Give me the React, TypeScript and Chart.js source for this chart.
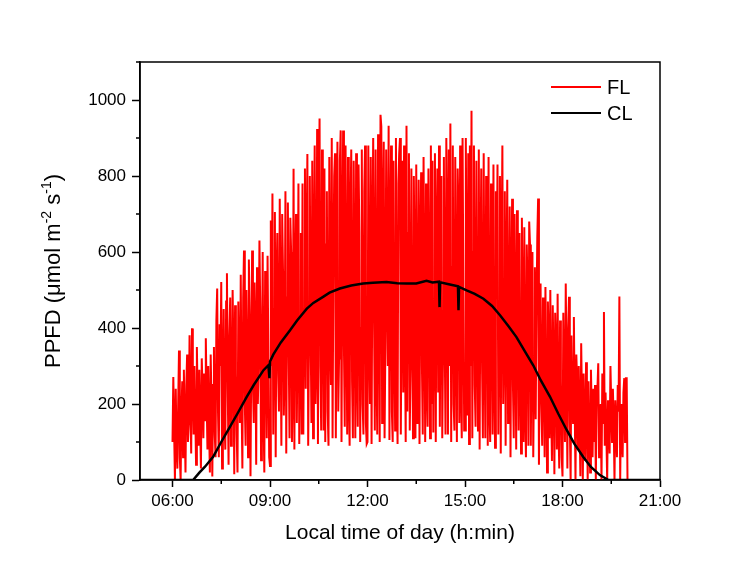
import React, { useEffect, useRef } from "react";
import { Chart, registerables } from "chart.js";

Chart.register(...registerables);

// ---- Data ----
// FL: sampled every 1.5 minutes, one array per hour
const FL_06 = [100, 271, 130, 0, 240, 90, 30, 200, 341, 60, 0, 180, 260, 60, 290, 140, 20, 250, 330, 100, 150, 381, 200, 70, 399, 260, 120, 300, 180, 40, 350, 210, 90, 290, 150, 30, 320, 240, 110, 280];
const FL_07 = [157, 373, 220, 80, 300, 140, 20, 330, 200, 9, 250, 350, 120, 60, 420, 504, 180, 60, 410, 300, 521, 30, 260, 450, 150, 80, 470, 544, 240, 40, 380, 480, 90, 200, 500, 330, 15, 460, 280, 120];
const FL_08 = [20, 470, 300, 150, 540, 210, 30, 480, 604, 200, 90, 500, 350, 60, 580, 420, 10, 340, 604, 250, 150, 520, 380, 40, 560, 200, 300, 630, 450, 52, 260, 600, 180, 20, 550, 400, 110, 590, 320, 60];
const FL_09 = [37, 683, 300, 754, 120, 450, 705, 60, 520, 650, 280, 180, 740, 400, 90, 700, 550, 170, 300, 760, 70, 480, 730, 350, 110, 690, 600, 100, 250, 819, 80, 520, 700, 150, 400, 780, 95, 330, 650, 120];
const FL_10 = [780, 120, 450, 820, 240, 600, 858, 90, 380, 800, 400, 150, 840, 110, 550, 880, 200, 320, 924, 95, 700, 951, 300, 130, 870, 480, 130, 820, 100, 620, 760, 180, 90, 850, 400, 250, 900, 110, 560, 800];
const FL_11 = [860, 110, 500, 890, 180, 320, 840, 920, 100, 600, 920, 350, 140, 880, 450, 120, 850, 230, 90, 700, 870, 260, 110, 840, 520, 110, 860, 300, 140, 830, 650, 100, 400, 870, 200, 120, 760, 880, 150, 95];
const FL_12 = [100, 880, 400, 200, 850, 95, 600, 900, 450, 130, 870, 300, 120, 910, 550, 100, 961, 930, 150, 700, 890, 110, 350, 870, 500, 300, 932, 105, 620, 880, 180, 100, 840, 420, 130, 900, 260, 95, 780, 860];
const FL_13 = [900, 120, 500, 840, 230, 880, 400, 100, 932, 180, 650, 860, 130, 300, 820, 420, 110, 800, 550, 110, 830, 150, 400, 790, 95, 600, 810, 300, 120, 850, 480, 100, 780, 250, 140, 820, 600, 110, 880, 200];
const FL_14 = [840, 125, 450, 860, 100, 620, 820, 230, 880, 140, 500, 800, 110, 350, 850, 380, 120, 900, 650, 120, 870, 300, 938, 100, 560, 880, 200, 130, 850, 420, 100, 820, 700, 150, 880, 250, 110, 900, 500, 130];
const FL_15 = [130, 900, 500, 170, 860, 95, 880, 300, 972, 110, 600, 880, 250, 140, 840, 450, 130, 870, 80, 550, 820, 300, 110, 860, 400, 110, 800, 620, 90, 850, 200, 100, 780, 480, 120, 830, 300, 85, 760, 500];
const FL_16 = [830, 120, 450, 800, 70, 600, 880, 200, 380, 760, 90, 520, 790, 150, 300, 720, 60, 480, 740, 250, 110, 700, 400, 80, 710, 550, 130, 650, 300, 70, 690, 420, 100, 665, 200, 60, 620, 500, 90, 680];
const FL_17 = [620, 90, 400, 600, 60, 300, 560, 160, 450, 640, 741, 40, 350, 517, 200, 90, 480, 320, 60, 508, 250, 20, 470, 380, 110, 500, 200, 50, 460, 300, 15, 440, 350, 80, 490, 150, 30, 420, 260, 60];
const FL_18 = [9, 440, 250, 100, 517, 300, 30, 400, 482, 150, 0, 380, 250, 150, 429, 200, 0, 330, 260, 80, 300, 150, 10, 360, 200, 0, 280, 120, 50, 310, 220, 0, 260, 150, 20, 290, 180, 60, 240, 100];
const FL_19 = [250, 0, 200, 240, 307, 60, 150, 200, 0, 280, 150, 442, 90, 230, 120, 0, 210, 160, 70, 300, 200, 100, 240, 150, 0, 210, 140, 60, 250, 180, 483, 0, 200, 120, 60, 230, 268, 100, 268, 268];
const FL_20 = [0];
const FL_HOURS = [6, 7, 8, 9, 10, 11, 12, 13, 14, 15, 16, 17, 18, 19, 20];

// CL: time (minutes since midnight) and PPFD
const CL_TIME = [300, 398, 410, 420, 435, 450, 466, 480, 497, 510, 528, 537, 539, 540, 546, 560, 577, 590, 608, 620, 638, 650, 669, 690, 712, 730, 755, 775, 792, 810, 829, 840, 852, 853, 854, 870, 887, 888, 889, 903, 918, 934, 950, 965, 980, 995, 1010, 1026, 1040, 1057, 1072, 1088, 1102, 1118, 1132, 1149, 1165, 1260];
const CL_VALUE = [0, 0, 20, 35, 61, 100, 140, 175, 219, 250, 289, 302, 268, 312, 330, 362, 394, 420, 451, 466, 482, 493, 504, 512, 517, 519, 521, 518, 517, 517, 524, 520, 522, 455, 520, 515, 510, 447, 508, 499, 490, 477, 458, 433, 405, 376, 340, 302, 262, 219, 175, 131, 95, 61, 35, 13, 0, 0];

const X_TICKS = [360, 540, 720, 900, 1080, 1260];
const X_TICK_LABELS = ["06:00", "09:00", "12:00", "15:00", "18:00", "21:00"];
const X_MINOR = [450, 630, 810, 990, 1170];
const Y_TICKS = [0, 200, 400, 600, 800, 1000];
const Y_MINOR = [100, 300, 500, 700, 900, 1100];

const FONT = "'Liberation Sans', Arial, sans-serif";

function buildFL() {
  const groups = [FL_06, FL_07, FL_08, FL_09, FL_10, FL_11, FL_12, FL_13, FL_14, FL_15, FL_16, FL_17, FL_18, FL_19, FL_20];
  const pts: { x: number; y: number }[] = [];
  groups.forEach((g, gi) => {
    const step = 60 / Math.max(g.length, 1);
    g.forEach((v, i) => pts.push({ x: FL_HOURS[gi] * 60 + i * step, y: v }));
  });
  return pts;
}

const framePlugin = {
  id: "frame",
  afterDraw(chart: any) {
    const { ctx, chartArea } = chart;
    const { left, right, top, bottom } = chartArea;
    const xs = chart.scales.x;
    const ys = chart.scales.y;
    ctx.save();
    ctx.strokeStyle = "#000";
    ctx.lineWidth = 1.5;
    ctx.beginPath();
    ctx.rect(left, top, right - left, bottom - top);
    ctx.stroke();
    // minor ticks
    ctx.beginPath();
    X_MINOR.forEach((v) => {
      const px = xs.getPixelForValue(v);
      ctx.moveTo(px, bottom);
      ctx.lineTo(px, bottom + 4);
    });
    Y_MINOR.forEach((v) => {
      const py = ys.getPixelForValue(v);
      ctx.moveTo(left, py);
      ctx.lineTo(left - 4, py);
    });
    ctx.stroke();

    // legend
    const items = [
      { label: "FL", color: "#ff0000", y: 87, w: 2 },
      { label: "CL", color: "#000000", y: 113, w: 2 },
    ];
    ctx.font = `20px ${FONT}`;
    ctx.textBaseline = "middle";
    ctx.textAlign = "left";
    items.forEach((it) => {
      ctx.strokeStyle = it.color;
      ctx.lineWidth = it.w;
      ctx.beginPath();
      ctx.moveTo(551, it.y);
      ctx.lineTo(601, it.y);
      ctx.stroke();
      ctx.fillStyle = "#000";
      ctx.fillText(it.label, 607, it.y + 1);
    });

    // y-axis title with superscripts
    const segs = [
      { t: "PPFD (\u03bcmol m", sup: false },
      { t: "-2", sup: true },
      { t: " s", sup: false },
      { t: "-1", sup: true },
      { t: ")", sup: false },
    ];
    const nf = `22px ${FONT}`;
    const sf = `14px ${FONT}`;
    let total = 0;
    segs.forEach((s) => {
      ctx.font = s.sup ? sf : nf;
      total += ctx.measureText(s.t).width;
    });
    ctx.translate(52, (top + bottom) / 2);
    ctx.rotate(-Math.PI / 2);
    ctx.fillStyle = "#000";
    ctx.textBaseline = "alphabetic";
    let cx = -total / 2;
    segs.forEach((s) => {
      ctx.font = s.sup ? sf : nf;
      ctx.fillText(s.t, cx, s.sup ? -1 : 8);
      cx += ctx.measureText(s.t).width;
    });
    ctx.restore();
  },
};

export default function App() {
  const ref = useRef<HTMLCanvasElement>(null);
  useEffect(() => {
    if (!ref.current) return;
    Chart.defaults.font.family = FONT;
    const chart = new Chart(ref.current, {
      type: "line",
      data: {
        datasets: [
          {
            label: "CL",
            data: CL_TIME.map((t, i) => ({ x: t, y: CL_VALUE[i] })),
            borderColor: "#000000",
            borderWidth: 2.5,
            pointRadius: 0,
            tension: 0,
            order: 0,
          },
          {
            label: "FL",
            data: buildFL(),
            borderColor: "#ff0000",
            borderWidth: 2,
            pointRadius: 0,
            tension: 0,
            order: 1,
          },
        ],
      },
      options: {
        responsive: false,
        animation: false,
        events: [],
        layout: { padding: { left: 0, top: 62, right: 90, bottom: 0 } },
        plugins: { legend: { display: false }, tooltip: { enabled: false } },
        scales: {
          x: {
            type: "linear",
            min: 300,
            max: 1260,
            afterBuildTicks: (s: any) => {
              s.ticks = X_TICKS.map((v) => ({ value: v }));
            },
            afterFit: (s: any) => {
              s.height = 91;
            },
            ticks: {
              color: "#000",
              font: { size: 17 },
              padding: 4,
              maxRotation: 0,
              autoSkip: false,
              callback: (_v: any, i: number) => X_TICK_LABELS[i],
            },
            grid: { display: true, drawOnChartArea: false, drawTicks: true, tickLength: 7, tickColor: "#000", tickWidth: 1.5 },
            border: { display: true, color: "#000", width: 1.5 },
            title: {
              display: true,
              text: "Local time of day (h:min)",
              color: "#000",
              font: { size: 21 },
              padding: { top: 0, bottom: 25 },
            },
          },
          y: {
            type: "linear",
            min: 0,
            max: 1100,
            afterBuildTicks: (s: any) => {
              s.ticks = Y_TICKS.map((v) => ({ value: v }));
            },
            afterFit: (s: any) => {
              s.width = 140;
            },
            ticks: {
              color: "#000",
              font: { size: 17 },
              padding: 6,
              autoSkip: false,
              callback: (v: any) => String(v),
            },
            grid: { display: true, drawOnChartArea: false, drawTicks: true, tickLength: 8, tickColor: "#000", tickWidth: 1.5 },
            border: { display: true, color: "#000", width: 1.5 },
          },
        },
      },
      plugins: [framePlugin],
    });
    return () => chart.destroy();
  }, []);
  return (
    <div style={{ position: "absolute", left: 0, top: 0, width: 750, height: 571, background: "#fff" }}>
      <canvas ref={ref} width={750} height={571} />
    </div>
  );
}
